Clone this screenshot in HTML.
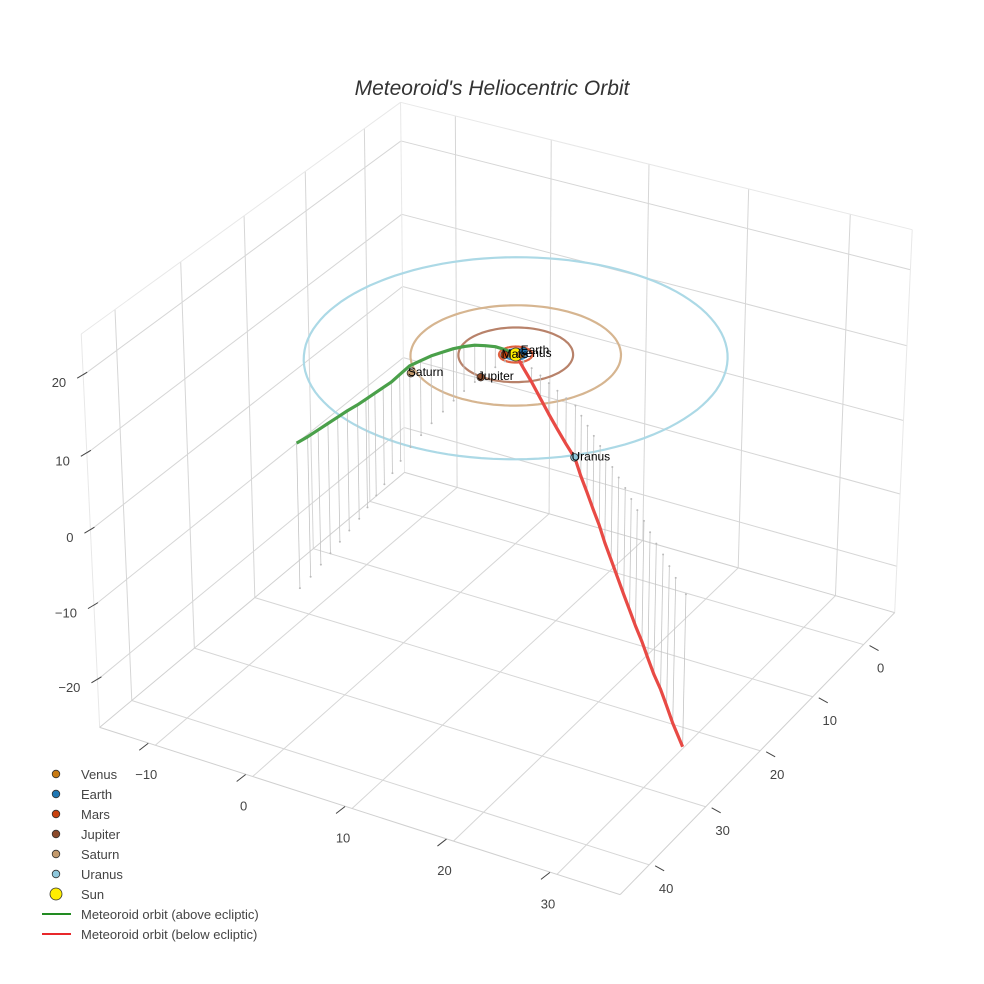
<!DOCTYPE html>
<html><head><meta charset="utf-8"><style>
body{margin:0;background:#fff;}
svg{display:block;font-family:"Liberation Sans",sans-serif;}
</style></head><body>
<svg id="chart" width="984" height="984" viewBox="0 0 984 984" xmlns="http://www.w3.org/2000/svg">
<rect width="984" height="984" fill="#fff"/>
<text x="492" y="95" text-anchor="middle" font-size="21" font-style="italic" fill="#333">Meteoroid's Heliocentric Orbit</text>
<g id="grid"></g><g id="orbits"></g><g id="drops"></g><g id="paths"></g><g id="planets"></g><g id="ticks"></g>
<g id="legend"></g>
</svg>
<script>
// axis ranges
const xRange=[-15.8,36];
const yRange=[-6.3,45];
const zRange=[-26.5,25.2];
const xTicks=[-10,0,10,20,30];
const yTicks=[0,10,20,30,40];
const zTicks=[-20,-10,0,10,20];
const xTickLabels=["\u221210","0","10","20","30"];
const yTickLabels=["0","10","20","30","40"];
const zTickLabels=["\u221220","\u221210","0","10","20"];
// planets
const planetNames=["Venus","Earth","Mars","Jupiter","Saturn","Uranus"];
const orbitRadii=[0.72,1.0,1.52,5.2,9.54,19.2];
const planetX=[0.4,0.3,-0.85,-0.6,-6.45,13.9];
const planetY=[-0.3,-0.9,0.55,5.25,7.7,13.8];
const planetColors=["#c87a12","#1f77b4","#c8420e","#8b4a2b","#c49a6c","#8fc8dc"];
const orbitColors=["#e39a3b","#3f8fc8","#e0603f","#b8826a","#d6b590","#acd9e6"];
// meteoroid above ecliptic
const greenX=[4.8,4.6,4.3,4.0,3.7,3.4,3.1,2.7,2.3,1.9,1.5,1.0,0.5,0.2,-0.1,-0.3,-0.5,-0.6,-0.6,-0.5,-0.4,-0.2,0.0];
const greenY=[44.3,42.3,40.2,38.2,36.2,34.2,32.1,30.1,28.0,26.0,24.0,21.8,19.3,17.0,14.7,12.4,10.2,8.2,6.3,4.6,3.0,1.6,0.5];
const greenZ=[18.5,17.9,17.3,16.7,16.1,15.5,14.8,14.1,13.4,12.7,12.0,11.4,10.8,9.9,9.0,8.0,7.0,6.0,5.0,3.9,2.8,1.6,0.5];
// meteoroid below ecliptic
const redX=[0.3,1.27,2.54,3.91,5.28,6.65,8.02,9.39,10.76,12.13,13.5,14.87,16.23,17.6,18.97,20.34,21.71,23.08,24.45,25.82,27.19,28.56,29.93,31.3,33.3];
const redY=[0.2,0.81,1.53,2.34,3.2,4.06,4.88,5.64,7.0,8.31,9.63,10.94,12.35,13.66,14.98,16.29,17.7,19.11,20.43,21.84,23.25,24.56,25.98,27.39,29.3];
const redZ=[-0.2,-0.9,-1.9,-3.1,-4.2,-5.2,-6.2,-7.2,-8.2,-9.0,-9.9,-10.7,-11.6,-12.5,-13.4,-14.3,-14.9,-15.5,-16.1,-16.8,-17.4,-17.9,-18.5,-19.2,-20.1];

const NS="http://www.w3.org/2000/svg";
// box corner screen positions (camera fit): [u,v,w, sx, sy]
const corners=[[0,0,0,404,473],[0,0,1,401,102],[1,0,0,895,612],[1,0,1,912,230],[0,1,0,100,727],[0,1,1,81,334],[1,1,0,620,895]];
function solve(A,b){const n=b.length;for(let i=0;i<n;i++){let m=i;for(let r=i+1;r<n;r++)if(Math.abs(A[r][i])>Math.abs(A[m][i]))m=r;[A[i],A[m]]=[A[m],A[i]];[b[i],b[m]]=[b[m],b[i]];for(let r=i+1;r<n;r++){const f=A[r][i]/A[i][i];for(let c=i;c<n;c++)A[r][c]-=f*A[i][c];b[r]-=f*b[i];}}const x=new Array(n).fill(0);for(let i=n-1;i>=0;i--){let s=b[i];for(let c=i+1;c<n;c++)s-=A[i][c]*x[c];x[i]=s/A[i][i];}return x;}
const rows=[],rhs=[];
corners.forEach(c=>{const [X,Y,Z,u,v]=[c[0],c[1],c[2],c[3]/1000,c[4]/1000];
rows.push([X,Y,Z,1,0,0,0,0,-u*X,-u*Y,-u*Z]);rhs.push(u);
rows.push([0,0,0,0,X,Y,Z,1,-v*X,-v*Y,-v*Z]);rhs.push(v);});
const N=[],nb=[];for(let i=0;i<11;i++){N.push(new Array(11).fill(0));nb.push(0);for(let r=0;r<rows.length;r++){nb[i]+=rows[r][i]*rhs[r];for(let j=0;j<11;j++)N[i][j]+=rows[r][i]*rows[r][j];}}
const P=solve(N,nb);
function proj(x,y,z){
  const u=(x-xRange[0])/(xRange[1]-xRange[0]);
  const v=(y-yRange[0])/(yRange[1]-yRange[0]);
  const w=(z-zRange[0])/(zRange[1]-zRange[0]);
  const h=P[8]*u+P[9]*v+P[10]*w+1;
  return [1000*(P[0]*u+P[1]*v+P[2]*w+P[3])/h, 1000*(P[4]*u+P[5]*v+P[6]*w+P[7])/h];
}
function mk(tag,attrs,parent){const e=document.createElementNS(NS,tag);for(const k in attrs)e.setAttribute(k,attrs[k]);parent.appendChild(e);return e;}
function line3(a,b,attrs,parent){const p=proj(...a),q=proj(...b);return mk('line',Object.assign({x1:p[0],y1:p[1],x2:q[0],y2:q[1]},attrs),parent);}
const G=id=>document.getElementById(id);
const grid=G('grid'), gs={stroke:'#d6d6d6','stroke-width':1,fill:'none'};
const [x0,x1]=xRange,[y0,y1]=yRange,[z0,z1]=zRange;
yTicks.forEach(t=>{const l=line3([x0,t,z0],[x0,t,z1],gs,grid);

});
zTicks.forEach(t=>{const l=line3([x0,y0,t],[x0,y1,t],gs,grid);

});
xTicks.forEach(t=>{const l=line3([t,y0,z0],[t,y0,z1],gs,grid);

});
zTicks.forEach(t=>{const l=line3([x0,y0,t],[x1,y0,t],gs,grid);

});
xTicks.forEach(t=>{const l=line3([t,y0,z0],[t,y1,z0],gs,grid);

});
yTicks.forEach(t=>{const l=line3([x0,t,z0],[x1,t,z0],gs,grid);

});
const es={stroke:'#e8e8e8','stroke-width':1};
[[[x0,y0,z1],[x0,y1,z1]],[[x0,y0,z1],[x1,y0,z1]],[[x0,y1,z0],[x0,y1,z1]],[[x1,y0,z0],[x1,y0,z1]],[[x0,y0,z0],[x0,y0,z1]]].forEach(s=>{const l=line3(s[0],s[1],es,grid);

});
[[[x0,y1,z0],[x1,y1,z0]],[[x1,y0,z0],[x1,y1,z0]],[[x0,y0,z0],[x0,y1,z0]],[[x0,y0,z0],[x1,y0,z0]]].forEach(s=>{const l=line3(s[0],s[1],{stroke:'#d0d0d0','stroke-width':1},grid);

});
const tk=G('ticks'), ts={stroke:'#444','stroke-width':1};
xTicks.forEach((t,i)=>{const p=proj(t,y1,z0);
const l=mk('line',Object.assign({x1:p[0]-7,y1:p[1]-2,x2:p[0]-16,y2:p[1]+5},ts),tk);


const tx=mk('text',{x:p[0]-9,y:p[1]+34,'text-anchor':'middle','font-size':13,fill:'#444'},tk);tx.textContent=xTickLabels[i];

});
yTicks.forEach((t,i)=>{const p=proj(x1,t,z0);
const l=mk('line',Object.assign({x1:p[0]+6,y1:p[1]+1,x2:p[0]+15,y2:p[1]+6},ts),tk);


const tx=mk('text',{x:p[0]+17,y:p[1]+28,'text-anchor':'middle','font-size':13,fill:'#444'},tk);tx.textContent=yTickLabels[i];

});
zTicks.forEach((t,i)=>{const p=proj(x0,y1,t);
const l=mk('line',Object.assign({x1:p[0]+4,y1:p[1]-3,x2:p[0]-6,y2:p[1]+3},ts),tk);


const tx=mk('text',{x:p[0]-17,y:p[1]+12,'text-anchor':'end','font-size':13,fill:'#444'},tk);tx.textContent=zTickLabels[i];

});
const ob=G('orbits');
orbitRadii.forEach((r,i)=>{let d='';for(let k=0;k<=120;k++){const a=k/120*2*Math.PI;const p=proj(r*Math.cos(a),r*Math.sin(a),0);d+=(k?'L':'M')+p[0].toFixed(1)+','+p[1].toFixed(1);}
const pa=mk('path',{d:d,stroke:orbitColors[i],'stroke-width':2.2,fill:'none'},ob);

});
const dr=G('drops');
function drops(X,Y,Z,name){X.forEach((x,i)=>{const p=proj(x,Y[i],Z[i]),q=proj(x,Y[i],0);
const l=mk('line',{x1:p[0],y1:p[1],x2:q[0],y2:q[1],stroke:'#c4c4c4','stroke-width':0.8},dr);


const c=mk('circle',{cx:q[0],cy:q[1],r:1,fill:'#bbb'},dr);

});}
drops(greenX,greenY,greenZ,'above-ecliptic');
drops(redX,redY,redZ,'below-ecliptic');
const pt=G('paths');
function path(X,Y,Z,col,name){let d='';X.forEach((x,i)=>{const p=proj(x,Y[i],Z[i]);d+=(i?'L':'M')+p[0].toFixed(1)+','+p[1].toFixed(1);});
const pa=mk('path',{d:d,stroke:col,'stroke-width':3.2,fill:'none','stroke-linejoin':'round'},pt);

}
path(greenX,greenY,greenZ,'#4aa04a','meteoroid-orbit-above-ecliptic');
path(redX,redY,redZ,'#e84a45','meteoroid-orbit-below-ecliptic');
const pl=G('planets');
const sp=proj(0,0,0);
const sun=mk('circle',{cx:sp[0],cy:sp[1],r:6.5,fill:'#ffee00',stroke:'#333','stroke-width':0.8},pl);


planetNames.forEach((n,i)=>{const p=proj(planetX[i],planetY[i],0);
const c=mk('circle',{cx:p[0],cy:p[1],r:3.8,fill:planetColors[i],stroke:'#333','stroke-width':0.8},pl);


const t=mk('text',{x:p[0]-3,y:p[1]+3,'font-size':12,fill:'#000'},pl);t.textContent=n;

});
const lg=G('legend');
const legNames=planetNames.concat(['Sun','Meteoroid orbit (above ecliptic)','Meteoroid orbit (below ecliptic)']);
legNames.forEach((n,i)=>{const y=774+i*20;
if(i<7){const c=mk('circle',{cx:56,cy:y,r:i===6?6:3.8,fill:i===6?'#ffee00':planetColors[i],stroke:'#333','stroke-width':0.8},lg);

}
else{const l=mk('line',{x1:42,y1:y,x2:71,y2:y,stroke:i===7?'#228b22':'#e8282b','stroke-width':2},lg);

}
const t=mk('text',{x:81,y:y+5,'font-size':13,fill:'#444'},lg);t.textContent=n;

});
</script>
</body></html>
